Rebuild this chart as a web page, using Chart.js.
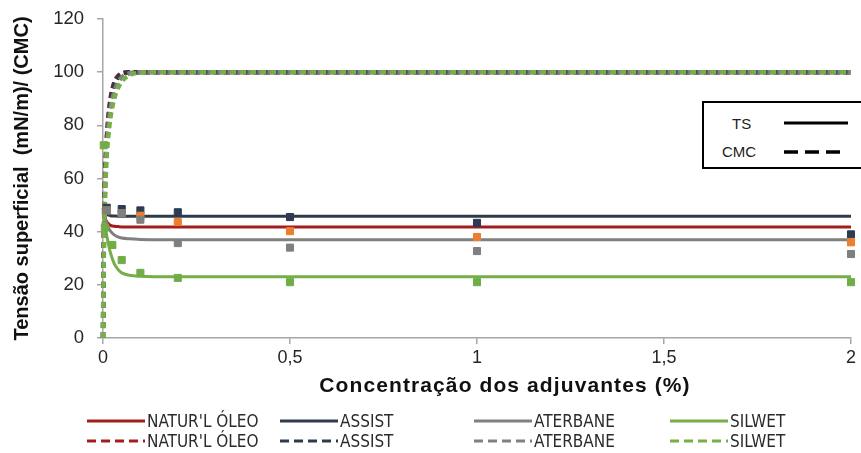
<!DOCTYPE html>
<html>
<head>
    <title>Tensão superficial x concentração</title>
    <script src="https://cdn.jsdelivr.net/npm/chart.js"></script>
    <style>
        body { margin: 0; overflow: hidden; background: #fff; }
        #wrap { position: relative; width: 861px; height: 453px; overflow: hidden; }
        #xtitle { position: absolute; left: 255px; width: 500px; top: 373px; text-align: center; letter-spacing: 1.1px;
                  font: bold 21px "Liberation Sans", Arial, sans-serif; color: #111; }
        .leg { position: absolute; height: 20px; display: flex; align-items: center;
               font: 17px "Liberation Sans Narrow", "Arial Narrow", "DejaVu Sans Condensed", sans-serif; color: #2b2b2b; }
        .leg svg { margin-right: 2px; }
        #tsbox { position: absolute; left: 702px; top: 101px; width: 180px; height: 64px;
                 border: 2px solid #000; background: #fff; font: 15px "Liberation Sans", Arial, sans-serif; color: #222; }
        #tsbox div { position: absolute; }
    </style>
</head>
<body>
<div id="wrap">
    <canvas id="grafico" width="861" height="453"></canvas>
    <div id="xtitle">Concentração dos adjuvantes (%)</div>
    <div id="tsbox">
        <div style="left:28px; top:12px;">TS</div>
        <svg style="position:absolute; left:80px; top:17px;" width="66" height="6"><line x1="0" y1="3" x2="64" y2="3" stroke="#000" stroke-width="3"/></svg>
        <div style="left:18px; top:40px;">CMC</div>
        <svg style="position:absolute; left:80px; top:46px;" width="66" height="6"><line x1="0" y1="3" x2="58" y2="3" stroke="#000" stroke-width="3.5" stroke-dasharray="14,7"/></svg>
    </div>
    <div id="legenda"></div>
</div>

<script>
    // pontos medidos
    var concPts = [0.01, 0.05, 0.1, 0.2, 0.5, 1, 2];
    var naturalPts = [48, 47, 46, 43.6, 40.2, 38, 36];
    var assistPts = [49, 48.5, 48, 47.3, 45.5, 43.3, 39];
    var aterbanePts = [48, 47, 44.5, 35.7, 34, 32.7, 31.6];
    var silwetConc = [0.002, 0.005, 0.025, 0.05, 0.1, 0.2, 0.5, 1, 2];
    var silwetPts = [72.5, 41.5, 35, 29.3, 24.5, 22.6, 21, 21, 21];

    // curvas ajustadas
    var curvaConc = [0, 0.001, 0.002, 0.004, 0.006, 0.008, 0.01, 0.015, 0.02, 0.03, 0.04, 0.05, 0.07, 0.1, 0.15, 0.2, 0.5, 1, 2];
    var naturalTS = [47, 46.6, 46.2, 45.5, 44.8, 44.2, 43.7, 42.9, 42.4, 42, 41.9, 41.8, 41.8, 41.8, 41.8, 41.8, 41.8, 41.8, 41.8];
    var assistTS = [49, 48.7, 48.4, 47.8, 47.3, 46.9, 46.6, 46.2, 46, 45.9, 45.8, 45.8, 45.8, 45.8, 45.8, 45.8, 45.8, 45.8, 45.8];
    var aterbaneTS = [49, 48.3, 47.6, 46.2, 45, 44, 43, 41.4, 40.2, 38.8, 38, 37.6, 37.3, 37.1, 37, 37, 37, 37, 37];
    var silwetTS = [48, 47, 46, 44, 42, 40, 38.5, 35, 32, 28, 25.8, 24.5, 23.6, 23.2, 23.05, 23, 23, 23, 23];
    var naturalCMC = [0, 20, 35, 52, 63, 70, 75, 84, 90, 96, 98.5, 99.5, 100, 100, 100, 100, 100, 100, 100];
    var assistCMC = [0, 19, 34, 50, 61, 68, 74, 83, 89, 95.5, 98, 99.3, 100, 100, 100, 100, 100, 100, 100];
    var aterbaneCMC = [0, 17, 31, 47, 58, 66, 71, 80, 86, 92.5, 96, 98, 99.5, 100, 100, 100, 100, 100, 100];
    var silwetCMC = [0, 15, 28, 44, 55, 63, 69, 77, 83, 90, 94, 96.5, 98.8, 99.8, 100, 100, 100, 100, 100];

    var xTickLabels = ['0', '0,5', '1', '1,5', '2'];
    var nomes = ["NATUR'L ÓLEO", 'ASSIST', 'ATERBANE', 'SILWET'];
    var coresLinha = ['#a51c1c', '#2f3b4b', '#808080', '#76ae48'];
    var coresPonto = ['#ed7d31', '#2c3b52', '#7f7f7f', '#70ad47'];

    function pares(xs, ys) {
        return xs.map(function(x, i) { return { x: x, y: ys[i] }; });
    }

    function pontos(xs, ys, cor) {
        return { data: pares(xs, ys), showLine: false, pointStyle: 'rect', pointRadius: 5,
                 pointBackgroundColor: cor, pointBorderColor: cor, pointBorderWidth: 1, clip: false };
    }

    function curva(ys, cor, tracejada) {
        return { data: pares(curvaConc, ys), borderColor: cor, borderWidth: tracejada ? 4.5 : 3,
                 borderDash: tracejada ? [6, 4] : [], pointRadius: 0, cubicInterpolationMode: 'monotone',
                 clip: 6, fill: false };
    }

    // o primeiro dataset fica por cima
    var datasets = [
        pontos(silwetConc, silwetPts, coresPonto[3]),
        pontos(concPts, aterbanePts, coresPonto[2]),
        pontos(concPts, naturalPts, coresPonto[0]),
        pontos(concPts, assistPts, coresPonto[1]),
        curva(silwetCMC, coresLinha[3], true),
        curva(aterbaneCMC, coresLinha[2], true),
        curva(assistCMC, coresLinha[1], true),
        curva(naturalCMC, coresLinha[0], true),
        curva(silwetTS, coresLinha[3], false),
        curva(aterbaneTS, coresLinha[2], false),
        curva(naturalTS, coresLinha[0], false),
        curva(assistTS, coresLinha[1], false)
    ];

    var eixoCor = '#a6a6a6';
    new Chart(document.getElementById('grafico'), {
        type: 'line',
        data: { datasets: datasets },
        options: {
            responsive: false,
            animation: false,
            devicePixelRatio: 1,
            layout: { padding: { top: 19, right: 10, left: 0, bottom: 0 } },
            plugins: { legend: { display: false }, tooltip: { enabled: false } },
            scales: {
                x: {
                    type: 'linear', min: 0, max: 2,
                    ticks: { stepSize: 0.5, padding: 3, color: '#262626',
                             font: { family: 'Liberation Sans, Arial', size: 18 },
                             callback: function(v, i) { return xTickLabels[i]; } },
                    grid: { drawOnChartArea: false, tickLength: 6, color: eixoCor, lineWidth: 1.5 },
                    border: { color: eixoCor, width: 1.5 },
                    afterFit: function(s) { s.height = 115; }
                },
                y: {
                    min: 0, max: 120,
                    ticks: { stepSize: 20, padding: 13, color: '#262626',
                             font: { family: 'Liberation Sans, Arial', size: 18.5 } },
                    grid: { drawOnChartArea: false, tickLength: 6, color: eixoCor, lineWidth: 1.5 },
                    border: { color: eixoCor, width: 1.5 },
                    title: { display: true, text: 'Tensão superficial  (mN/m)/ (CMC)', color: '#111',
                             font: { family: 'Liberation Sans, Arial', size: 20, weight: 'bold' },
                             padding: { top: 10, bottom: 0 } },
                    afterFit: function(s) { s.width = 103; s.paddingTop = 0; s.paddingBottom = 0; }
                }
            }
        }
    });

    // legenda de baixo, duas linhas (TS cheia, CMC tracejada)
    var legX = [87, 280, 474, 670];
    var legY = [411, 431];
    var html = '';
    for (var r = 0; r < 2; r++) {
        for (var i = 0; i < nomes.length; i++) {
            var dash = r === 1 ? ' stroke-dasharray="9,5"' : '';
            html += '<div class="leg" style="left:' + legX[i] + 'px; top:' + legY[r] + 'px;">' +
                '<svg width="58" height="6"><line x1="0" y1="3" x2="58" y2="3" stroke="' + coresLinha[i] +
                '" stroke-width="3"' + dash + '/></svg>' + nomes[i] + '</div>';
        }
    }
    document.getElementById('legenda').innerHTML = html;
</script>
</body>
</html>
